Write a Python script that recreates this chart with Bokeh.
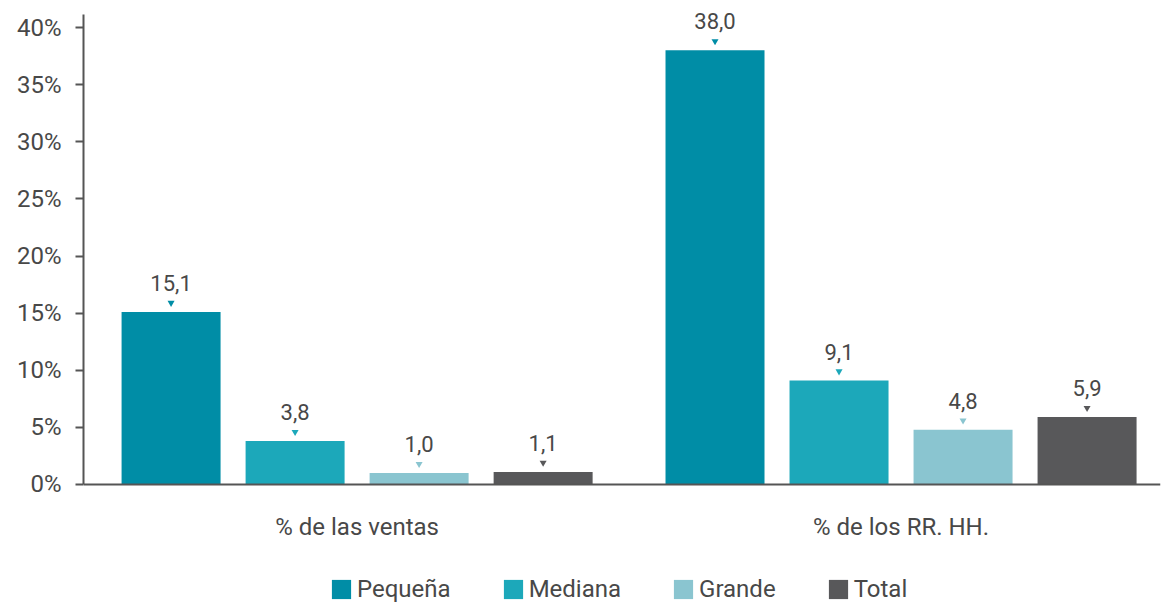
from bokeh.plotting import figure
from bokeh.models import Range1d, FixedTicker, PrintfTickFormatter, Legend, LegendItem, ColumnDataSource, Span
from bokeh.core.properties import value
from bokeh.embed import file_html
from bokeh.resources import INLINE

groups = ["% de las ventas", "% de los RR. HH."]
series = ["Pequeña", "Mediana", "Grande", "Total"]
pequena = [15.1, 38.0]
mediana = [3.8, 9.1]
grande = [1.0, 4.8]
total = [1.1, 5.9]
colors = ["#008DA6", "#1CA8BA", "#8AC5D0", "#58585A"]
y_ticks = [0, 5, 10, 15, 20, 25, 30, 35, 40]

FONT = "Roboto"
TXT = "#484848"
AXIS = "#555555"
Y_TOP = 41.14

p = figure(width=1163, height=602, output_backend="svg", toolbar_location=None,
           x_range=Range1d(-0.503, 1.477), y_range=Range1d(-10.33, 42.365),
           min_border_left=83, min_border_right=3, min_border_top=0, min_border_bottom=0)
p.outline_line_color = None
p.grid.visible = False
p.background_fill_color = "white"
p.border_fill_color = "white"
p.xaxis.visible = False

step = 0.228
bw = 0.182
renderers = []
for j, (name, vals, col) in enumerate(zip(series, [pequena, mediana, grande, total], colors)):
    xs = [g + (j - 1.5) * step for g in range(len(groups))]
    src = ColumnDataSource(dict(x=xs, top=vals,
                                lab=[f"{v:.1f}".replace(".", ",") for v in vals],
                                tri=[v + 0.8 for v in vals]))
    r = p.vbar(x="x", top="top", width=bw, bottom=0, source=src, fill_color=col, line_color=None)
    renderers.append(r)
    p.scatter(x="x", y="tri", source=src, marker="inverted_triangle", size=7,
              fill_color=col, line_color=None)
    p.text(x="x", y="top", text="lab", source=src, y_offset=-29, text_align="center",
           text_baseline="middle", text_font_size="22px", text_color=TXT,
           text_font=value(FONT))

# x axis line and category labels
p.add_layout(Span(location=0, dimension="width", line_color=AXIS, line_width=2))
cat_src = ColumnDataSource(dict(x=list(range(len(groups))), y=[0] * len(groups), t=groups))
p.text(x="x", y="y", text="t", source=cat_src, y_offset=43, text_align="center",
       text_baseline="middle", text_font_size="24px", text_color=TXT, text_font=value(FONT))

# y axis
ya = p.yaxis[0]
ya.bounds = (0, Y_TOP)
ya.ticker = FixedTicker(ticks=y_ticks)
ya.formatter = PrintfTickFormatter(format="%d%%")
ya.major_tick_out = 8
ya.major_tick_in = 0
ya.minor_tick_out = 0
ya.minor_tick_in = 0
ya.axis_line_color = AXIS
ya.axis_line_width = 2
ya.major_tick_line_color = AXIS
ya.major_tick_line_width = 2
ya.major_label_standoff = 14
ya.major_label_text_font_size = "24px"
ya.major_label_text_color = TXT
ya.major_label_text_font = FONT

legend = Legend(items=[LegendItem(label=s, renderers=[r]) for s, r in zip(series, renderers)],
                orientation="horizontal", location=(246, -1),
                border_line_color=None, background_fill_alpha=0,
                padding=0, margin=0, spacing=50, label_standoff=4,
                glyph_width=24, glyph_height=24,
                label_text_font_size="24px", label_text_color=TXT, label_text_font=FONT)
p.add_layout(legend, "center")

open("out.html", "w").write(file_html(p, INLINE))
